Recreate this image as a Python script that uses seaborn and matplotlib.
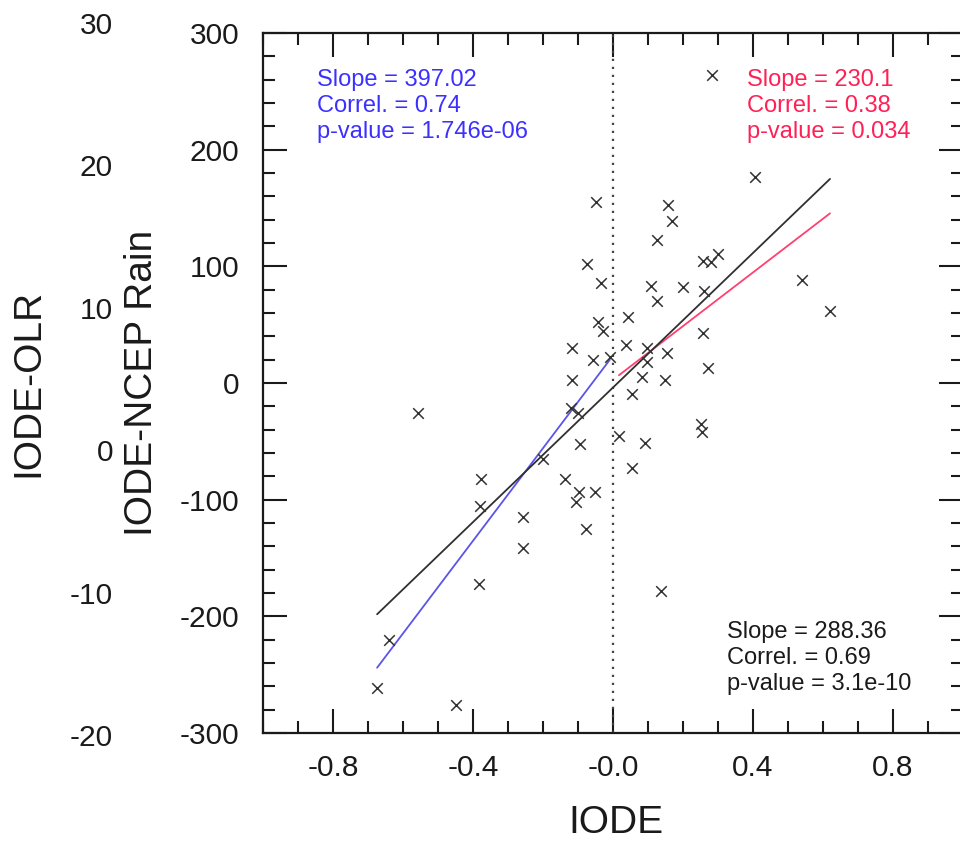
"""
plot.py
-------
IODE vs IODE-NCEP Rain scatter with regression lines for the
negative, positive and full IODE samples (NCL-style panel).
"""

import matplotlib

matplotlib.use("Agg")
import matplotlib.pyplot as plt
import numpy as np
import pandas as pd
import seaborn as sns
from matplotlib.ticker import MultipleLocator

# --- values ---
iode = [
    0.283, -0.049, 0.157, 0.169, 0.126, 0.406, -0.074, 0.300, 0.257, 0.280,
    -0.034, 0.109, 0.200, 0.260, 0.126, 0.540, 0.620, 0.043, -0.043, -0.029,
    0.257, -0.117, 0.037, 0.097, 0.154, -0.057, -0.009, 0.097, -0.117, 0.083,
    0.149, 0.271, 0.054, -0.120, -0.100, 0.017, 0.091, -0.094, 0.251, 0.254,
    -0.200, 0.054, -0.137, -0.097, -0.051, -0.106, -0.257, -0.077, -0.257, 0.137,
    -0.557, -0.377, -0.380, -0.383, -0.640, -0.674, -0.449,
]
rain = [
    264, 155, 153, 139, 123, 177, 102, 111, 105, 104,
    86, 83, 82, 79, 70, 88, 62, 57, 52, 45,
    43, 30, 33, 30, 26, 20, 22, 18, 3, 5,
    3, 13, -9, -21, -26, -45, -51, -52, -35, -42,
    -65, -73, -82, -93, -93, -102, -115, -125, -141, -178,
    -26, -82, -105, -172, -220, -261, -276,
]

olr_ticks = [30, 20, 10, 0, -10, -20]
x_ticks = [-0.8, -0.4, 0.0, 0.4, 0.8]
x_tick_labels = ["-0.8", "-0.4", "-0.0", "0.4", "0.8"]
y_ticks = [-300, -200, -100, 0, 100, 200, 300]

# fit stats printed on the panel: (subset, slope, correl, p-value text)
fit_names = ["neg", "pos", "all"]
fit_slopes = [397.02, 230.1, 288.36]
fit_correls = ["0.74", "0.38", "0.69"]
fit_pvalues = ["1.746e-06", "0.034", "3.1e-10"]

BLUE_TXT = "#3c30ff"
RED_TXT = "#ff2055"
BLUE_LINE = "#5a55e8"
RED_LINE = "#ff4070"
INK = "#1a1a1a"

sns.set_style("ticks")
plt.rcParams["font.family"] = ["Liberation Sans", "DejaVu Sans"]

df = pd.DataFrame({"iode": iode, "rain": rain})

W, H = 960, 842
fig = plt.figure(figsize=(W / 100, H / 100), dpi=100)
ax = fig.add_axes([263 / W, (H - 733) / H, 700 / W, 700 / H])

# regression segments, each spanning its own subset of points
subsets = {
    "neg": df[df["iode"] < 0],
    "pos": df[df["iode"] >= 0],
    "all": df,
}
line_colors = {"neg": BLUE_LINE, "pos": RED_LINE, "all": "#303030"}
for name, slope in zip(fit_names, fit_slopes):
    sub = subsets[name]
    icpt = sub["rain"].mean() - slope * sub["iode"].mean()
    xs = np.array([sub["iode"].min(), sub["iode"].max()])
    sns.lineplot(x=xs, y=icpt + slope * xs, color=line_colors[name],
                 lw=1.3, ax=ax, zorder=3)

sns.scatterplot(data=df, x="iode", y="rain", marker="x", color="#333333",
                s=58, linewidth=1.1, ax=ax, zorder=4)

ax.axvline(0, color="#444444", lw=1.6, linestyle=(0, (1, 2.6)), zorder=2)

ax.set_xlim(-1.0, 1.0)
ax.set_ylim(-300, 300)
ax.set_xticks(x_ticks)
ax.set_xticklabels(x_tick_labels)
ax.set_yticks(y_ticks)
ax.set_yticklabels([str(v) for v in y_ticks])
ax.xaxis.set_minor_locator(MultipleLocator(0.1))
ax.yaxis.set_minor_locator(MultipleLocator(20))
ax.tick_params(which="both", direction="in", top=True, right=True,
               width=1.5, color=INK, labelsize=21.5, labelcolor=INK)
ax.tick_params(which="major", length=17)
ax.tick_params(which="minor", length=8.5)
ax.tick_params(axis="x", pad=15)
ax.tick_params(axis="y", pad=17)
for sp in ax.spines.values():
    sp.set_linewidth(1.6)
    sp.set_color(INK)

ax.set_xlabel("IODE", fontsize=28, color=INK)
ax.xaxis.set_label_coords(616 / W, 1 - 805 / H, transform=fig.transFigure)
ax.set_ylabel("IODE-NCEP Rain", fontsize=28, color=INK)
ax.yaxis.set_label_coords(160 / W, 1 - 383 / H, transform=fig.transFigure)

# fit annotations
txt_kw = dict(transform=ax.transAxes, fontsize=17, va="center", ha="left",
              linespacing=1.25)
txt_pos = {"neg": (0.077, 0.896), "pos": (0.691, 0.896), "all": (0.663, 0.107)}
txt_col = {"neg": BLUE_TXT, "pos": RED_TXT, "all": INK}
for name, slope, r, p in zip(fit_names, fit_slopes, fit_correls, fit_pvalues):
    label = f"Slope = {slope:g}\nCorrel. = {r}\np-value = {p}"
    ax.text(*txt_pos[name], label, color=txt_col[name], **txt_kw)

# outer IODE-OLR scale from the neighbouring panel
ax2 = fig.add_axes([120 / W, (H - 735) / H, 0.001, 712 / H])
ax2.set_ylim(-20, 30)
ax2.set_yticks(olr_ticks)
ax2.set_yticklabels([str(v) for v in olr_ticks])
ax2.tick_params(axis="y", length=0, pad=5, labelsize=21.5, labelcolor=INK)
ax2.set_xticks([])
ax2.patch.set_alpha(0)
for sp in ax2.spines.values():
    sp.set_visible(False)
ax2.set_ylabel("IODE-OLR", fontsize=28, color=INK)
ax2.yaxis.set_label_coords(46 / W, 1 - 383 / H, transform=fig.transFigure)

fig.savefig("out.png", dpi=100)
